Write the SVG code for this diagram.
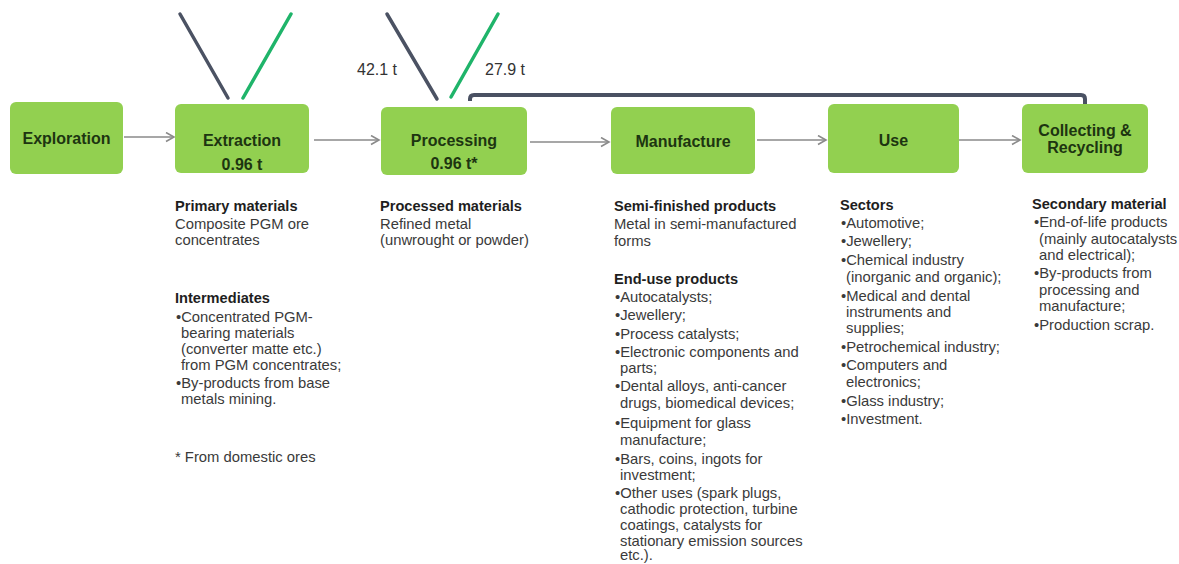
<svg xmlns="http://www.w3.org/2000/svg" width="1179" height="564" viewBox="0 0 1179 564">
<defs>
<style>
.box{fill:#92d050;}
.bt{font-family:"Liberation Sans",Arial,sans-serif;font-weight:bold;font-size:16px;fill:#1d3511;text-anchor:middle;}
.h{font-family:"Liberation Sans",Arial,sans-serif;font-weight:bold;font-size:14.6px;fill:#1e1e1e;}
.t{font-family:"Liberation Sans",Arial,sans-serif;font-size:14.8px;fill:#3a3a3a;}
.lbl{font-family:"Liberation Sans",Arial,sans-serif;font-size:16px;fill:#333;}
.flow{stroke:#8a8a8a;stroke-width:1.6;fill:none;}
.dark{stroke:#4b5263;stroke-width:3.5;fill:none;stroke-linecap:round;}
.green{stroke:#1fb46a;stroke-width:3.5;fill:none;stroke-linecap:round;}
</style>
<marker id="ah" markerUnits="userSpaceOnUse" markerWidth="12" markerHeight="12" refX="9" refY="5" orient="auto">
<path d="M1,0.5 L9,5 L1,9.5" fill="none" stroke="#8a8a8a" stroke-width="1.6"/>
</marker>
</defs>
<rect width="1179" height="564" fill="#ffffff"/>

<g id="connectors">
<path class="flow" d="M124,137 H174" marker-end="url(#ah)"/>
<path class="flow" d="M314,140 H379" marker-end="url(#ah)"/>
<path class="flow" d="M530,142 H609" marker-end="url(#ah)"/>
<path class="flow" d="M757,140 H826" marker-end="url(#ah)"/>
<path class="flow" d="M958,140 H1020" marker-end="url(#ah)"/>
<path class="dark" d="M180,14 L228,98"/>
<path class="green" d="M243,98 L291,14"/>
<path class="dark" d="M387,14 L437,99"/>
<path class="green" d="M451,97 L498,14"/>
<path d="M1085,104 V99 Q1085,95 1081,95 H474 Q470,95 470,99 V101" fill="none" stroke="#4a5163" stroke-width="4"/>
<text class="lbl" x="357" y="75">42.1 t</text>
<text class="lbl" x="485" y="75">27.9 t</text>
</g>

<g id="exploration">
<rect class="box" x="10" y="102" width="113" height="72" rx="6"/>
<text class="bt" x="66.5" y="144">Exploration</text>
</g>
<g id="extraction">
<rect class="box" x="175" y="104" width="134" height="69" rx="6"/>
<text class="bt" x="242" y="146">Extraction</text>
<text class="bt" x="242" y="170">0.96 t</text>
</g>
<g id="processing">
<rect class="box" x="381" y="107" width="146" height="68" rx="6"/>
<text class="bt" x="454" y="146">Processing</text>
<text class="bt" x="454" y="169">0.96 t*</text>
</g>
<g id="manufacture">
<rect class="box" x="611" y="107" width="144" height="67" rx="6"/>
<text class="bt" x="683" y="147">Manufacture</text>
</g>
<g id="use">
<rect class="box" x="828" y="104" width="131" height="69" rx="6"/>
<text class="bt" x="893.5" y="146">Use</text>
</g>
<g id="collecting">
<rect class="box" x="1022" y="104" width="126" height="69" rx="6"/>
<text class="bt" x="1085" y="136">Collecting &amp;</text>
<text class="bt" x="1085" y="153">Recycling</text>
</g>

<g id="col-extraction">
<text class="h" x="175" y="211">Primary materials</text>
<text class="t" x="175" y="229">Composite PGM ore</text>
<text class="t" x="175" y="245">concentrates</text>
<text class="h" x="175" y="303">Intermediates</text>
<text class="t" x="176" y="322">•Concentrated PGM-</text>
<text class="t" x="181" y="338">bearing materials</text>
<text class="t" x="181" y="354">(converter matte etc.)</text>
<text class="t" x="181" y="370">from PGM concentrates;</text>
<text class="t" x="176" y="388">•By-products from base</text>
<text class="t" x="181" y="404">metals mining.</text>
<text class="t" x="175" y="462">* From domestic ores</text>
</g>

<g id="col-processing">
<text class="h" x="380" y="211">Processed materials</text>
<text class="t" x="380" y="229">Refined metal</text>
<text class="t" x="380" y="245">(unwrought or powder)</text>
</g>

<g id="col-manufacture">
<text class="h" x="614" y="211">Semi-finished products</text>
<text class="t" x="614" y="229">Metal in semi-manufactured</text>
<text class="t" x="614" y="246">forms</text>
<text class="h" x="614" y="284">End-use products</text>
<text class="t" x="615" y="302">•Autocatalysts;</text>
<text class="t" x="615" y="320">•Jewellery;</text>
<text class="t" x="615" y="339">•Process catalysts;</text>
<text class="t" x="615" y="357">•Electronic components and</text>
<text class="t" x="620" y="373">parts;</text>
<text class="t" x="615" y="391">•Dental alloys, anti-cancer</text>
<text class="t" x="620" y="408">drugs, biomedical devices;</text>
<text class="t" x="615" y="428">•Equipment for glass</text>
<text class="t" x="620" y="445">manufacture;</text>
<text class="t" x="615" y="464">•Bars, coins, ingots for</text>
<text class="t" x="620" y="480">investment;</text>
<text class="t" x="615" y="498">•Other uses (spark plugs,</text>
<text class="t" x="620" y="514">cathodic protection, turbine</text>
<text class="t" x="620" y="530">coatings,  catalysts for</text>
<text class="t" x="620" y="546">stationary emission sources</text>
<text class="t" x="620" y="560">etc.).</text>
</g>

<g id="col-use">
<text class="h" x="840" y="210">Sectors</text>
<text class="t" x="841" y="228">•Automotive;</text>
<text class="t" x="841" y="246">•Jewellery;</text>
<text class="t" x="841" y="265">•Chemical industry</text>
<text class="t" x="846" y="282">(inorganic and organic);</text>
<text class="t" x="841" y="301">•Medical and dental</text>
<text class="t" x="846" y="317">instruments and</text>
<text class="t" x="846" y="333">supplies;</text>
<text class="t" x="841" y="352">•Petrochemical industry;</text>
<text class="t" x="841" y="370">•Computers and</text>
<text class="t" x="846" y="387">electronics;</text>
<text class="t" x="841" y="406">•Glass industry;</text>
<text class="t" x="841" y="424">•Investment.</text>
</g>

<g id="col-collecting">
<text class="h" x="1032" y="209">Secondary material</text>
<text class="t" x="1034" y="227">•End-of-life products</text>
<text class="t" x="1039" y="244">(mainly autocatalysts</text>
<text class="t" x="1039" y="260">and electrical);</text>
<text class="t" x="1034" y="278">•By-products from</text>
<text class="t" x="1039" y="295">processing and</text>
<text class="t" x="1039" y="311">manufacture;</text>
<text class="t" x="1034" y="330">•Production scrap.</text>
</g>
</svg>
